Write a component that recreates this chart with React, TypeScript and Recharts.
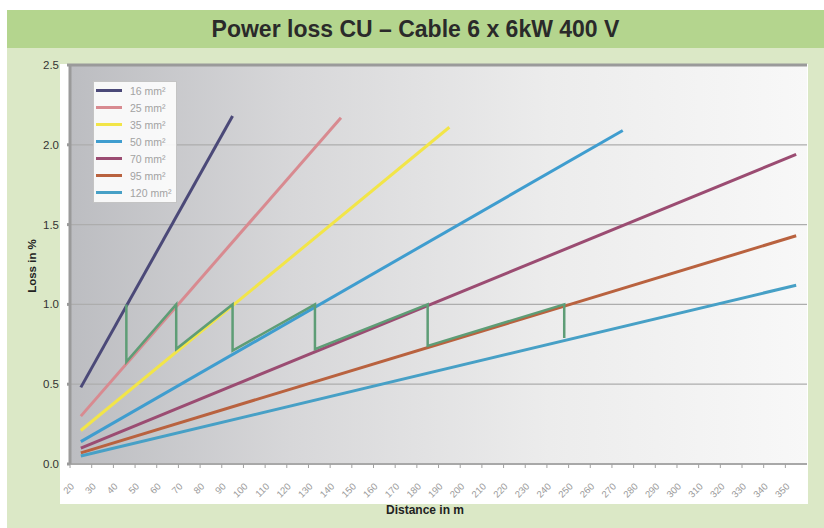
import React from "react";
import {
  LineChart,
  Line,
  XAxis,
  YAxis,
  CartesianGrid,
  ReferenceLine,
} from "recharts";

// distances in m, loss in %
const dist16 = [20, 90];
const loss16 = [0.48, 2.18];
const dist25 = [20, 140];
const loss25 = [0.3, 2.17];
const dist35 = [20, 190];
const loss35 = [0.21, 2.11];
const dist50 = [20, 270];
const loss50 = [0.14, 2.09];
const dist70 = [20, 350];
const loss70 = [0.1, 1.94];
const dist95 = [20, 350];
const loss95 = [0.07, 1.43];
const dist120 = [20, 350];
const loss120 = [0.05, 1.12];

// switch-over path (green)
const distStep = [41, 41, 64, 64, 90, 90, 128, 128, 180, 180, 243, 243];
const lossStep = [1.0, 0.64, 1.0, 0.72, 1.0, 0.71, 1.0, 0.72, 1.0, 0.74, 1.0, 0.79];

const xTicks = [
  20, 30, 40, 50, 60, 70, 80, 90, 100, 110, 120, 130, 140, 150, 160, 170, 180,
  190, 200, 210, 220, 230, 240, 250, 260, 270, 280, 290, 300, 310, 320, 330,
  340, 350,
];
const yTicks = [0, 0.5, 1.0, 1.5, 2.0, 2.5];

const toPts = (d: number[], l: number[]) => d.map((v, i) => ({ d: v, loss: l[i] }));

const series = [
  { name: "16 mm²", data: toPts(dist16, loss16), color: "#4b4978" },
  { name: "25 mm²", data: toPts(dist25, loss25), color: "#d88a90" },
  { name: "35 mm²", data: toPts(dist35, loss35), color: "#f2e548" },
  { name: "50 mm²", data: toPts(dist50, loss50), color: "#3f9dcf" },
  { name: "70 mm²", data: toPts(dist70, loss70), color: "#9b4c72" },
  { name: "95 mm²", data: toPts(dist95, loss95), color: "#b9623f" },
  { name: "120 mm²", data: toPts(dist120, loss120), color: "#47a0c6" },
];
const stepData = toPts(distStep, lossStep);

const font = "'Liberation Sans', Arial, sans-serif";

const XTick = (props: any) => {
  const { x, y, payload } = props;
  const tx = x - 6;
  const ty = y + 23;
  return (
    <g>
      <line x1={x - 10.8} x2={x - 10.8} y1={y} y2={y + 4} stroke="#a0a0a0" />
      <text
        x={tx}
        y={ty}
        transform={`rotate(-45 ${tx} ${ty})`}
        textAnchor="end"
        fontSize={9.5}
        fill="#9a9a9a"
        fontFamily={font}
      >
        {payload.value}
      </text>
    </g>
  );
};

function LegendBox() {
  return (
    <div
      style={{
        position: "absolute",
        left: 93,
        top: 81,
        background: "rgba(255,255,255,0.88)",
        border: "1px solid #c4c4c4",
        padding: "0px 4px 1px 2px",
        width: 76,
        fontFamily: font,
      }}
    >
      {series.map((s) => (
        <div key={s.name} style={{ display: "flex", alignItems: "center", height: 17 }}>
          <span style={{ width: 26, height: 3, background: s.color, display: "inline-block" }} />
          <span style={{ fontSize: 10.5, color: "#a2a2a2", marginLeft: 8, whiteSpace: "nowrap" }}>{s.name}</span>
        </div>
      ))}
    </div>
  );
}

export default function App() {
  return (
    <div
      style={{
        position: "absolute",
        left: 0,
        top: 0,
        width: 824,
        height: 528,
        background: "#fff",
        fontFamily: font,
        overflow: "hidden",
      }}
    >
      <div style={{ position: "absolute", left: 7, top: 10, width: 817, height: 518, background: "#dbe8c6" }} />
      <div
        style={{
          position: "absolute",
          left: 7,
          top: 10,
          width: 817,
          height: 38,
          background: "#b4d58e",
          display: "flex",
          alignItems: "center",
          justifyContent: "center",
          fontSize: 23,
          fontWeight: "bold",
          color: "#2a2a2a",
        }}
      >
        Power loss CU – Cable 6 x 6kW 400 V
      </div>
      <div style={{ position: "absolute", left: 60, top: 64, width: 748, height: 440, background: "#fff" }} />
      <div
        style={{
          position: "absolute",
          left: 368,
          top: 503,
          width: 114,
          textAlign: "center",
          fontSize: 12,
          fontWeight: "bold",
          color: "#222",
        }}
      >
        Distance in m
      </div>
      <div
        style={{
          position: "absolute",
          left: -13,
          top: 260,
          width: 90,
          textAlign: "center",
          fontSize: 11.5,
          fontWeight: "bold",
          color: "#222",
          transform: "rotate(-90deg)",
        }}
      >
        Loss in %
      </div>
      <div style={{ position: "absolute", left: 0, top: 0 }}>
        <LineChart
          width={824}
          height={528}
          margin={{ top: 65, right: 17, bottom: 24, left: 40 }}
        >
          <defs>
            <linearGradient id="plotBg" x1="0" y1="0" x2="1" y2="0">
              <stop offset="0%" stopColor="#bcbdc1" />
              <stop offset="30%" stopColor="#d7d7d9" />
              <stop offset="65%" stopColor="#ececec" />
              <stop offset="100%" stopColor="#f8f8f8" />
            </linearGradient>
          </defs>
          <CartesianGrid
            vertical={false}
            fill="url(#plotBg)"
            stroke="#adadad"
            strokeWidth={1.2}
          />
          <XAxis
            type="number"
            dataKey="d"
            domain={[15, 355]}
            ticks={xTicks}
            interval={0}
            allowDataOverflow
            height={40}
            tickSize={0}
            tickMargin={0}
            tick={<XTick />}
            stroke="#a8a8a8"
            strokeWidth={2}
          />
          <YAxis
            type="number"
            dataKey="loss"
            domain={[0, 2.5]}
            ticks={yTicks}
            width={30}
            tickSize={3}
            tickMargin={8}
            tickFormatter={(v: number) => v.toFixed(1)}
            tick={{ fontSize: 11.5, fill: "#333", fontFamily: font }}
            stroke="#9a9a9a"
            strokeWidth={3}
          />
          <ReferenceLine y={2.5} stroke="#9a9a9a" strokeWidth={3} />
          {series.map((s) => (
            <Line
              key={s.name}
              name={s.name}
              data={s.data}
              dataKey="loss"
              type="linear"
              stroke={s.color}
              strokeWidth={3}
              dot={false}
              isAnimationActive={false}
            />
          ))}
          <Line
            name="step"
            data={stepData}
            dataKey="loss"
            type="linear"
            stroke="#5e9d76"
            strokeWidth={2.5}
            dot={false}
            isAnimationActive={false}
          />
        </LineChart>
      </div>
      <LegendBox />
    </div>
  );
}
